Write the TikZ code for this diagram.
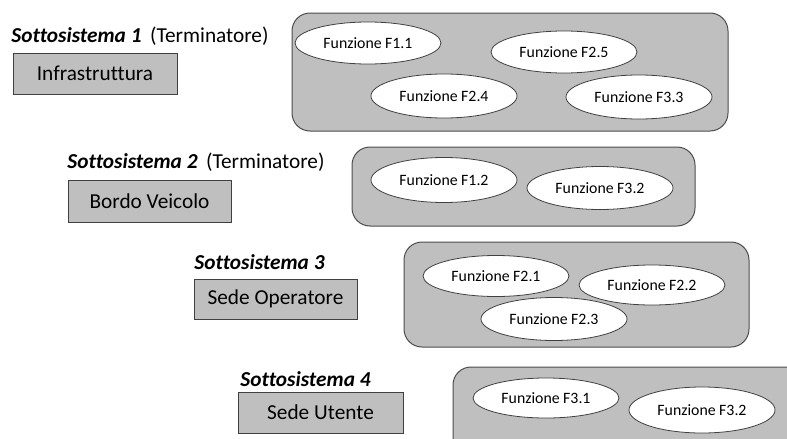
\documentclass[tikz,border=0pt]{standalone}
\usepackage{fontspec}
\setmainfont{Carlito}[Ligatures=NoCommon]
\usetikzlibrary{positioning,shapes}

\begin{document}
\begin{tikzpicture}[x=1pt,y=-1pt,line width=0.8pt,
		title/.style={anchor=base west,inner sep=0pt,font=\fontsize{21.3}{25}\selectfont},
		subbox/.style={draw=black!75,fill=black!25,inner sep=0pt,font=\fontsize{21.3}{25}\selectfont},
		cont/.style={draw=black!70,fill=black!25,rounded corners=18pt,inner sep=0pt,line width=1pt},
		funz/.style={shape=ellipse,draw=black!75,fill=white,inner sep=0pt,minimum width=146pt,minimum height=42pt,font=\fontsize{15.8}{18}\selectfont}]
		\useasboundingbox (0,0) rectangle (787,439);
		\clip (0,0) rectangle (787,439);
		
		\node[title] (t1) at (11,42) {\textbf{\textit{Sottosistema 1}}\hspace{0.4em}(Terminatore)};
		\node[subbox,minimum width=164pt,minimum height=41pt] (s1) at (95,73.5) {Infrastruttura};
		\node[cont,minimum width=436pt,minimum height=118pt] (c1) at (510,72) {};
		\node[funz] (f11) at (368,43) {Funzione F1.1};
		\node[funz] (f25) at (564,52) {Funzione F2.5};
		\node[funz,minimum height=44pt] (f24) at (444,96) {Funzione F2.4};
		\node[funz,minimum height=44pt] (f33) at (639,97) {Funzione F3.3};
		
		\node[title] (t2) at (67,168) {\textbf{\textit{Sottosistema 2}}\hspace{0.4em}(Terminatore)};
		\node[subbox,minimum width=163pt,minimum height=42pt] (s2) at (149.5,201) {Bordo Veicolo};
		\node[cont,minimum width=343pt,minimum height=79pt] (c2) at (523.5,186.5) {};
		\node[funz,minimum height=45pt] (f12) at (444,180) {Funzione F1.2};
		\node[funz,minimum height=43pt] (f32a) at (600,188) {Funzione F3.2};
		
		\node[title] (t3) at (194,269) {\textbf{\textit{Sottosistema 3}}};
		\node[subbox,minimum width=163pt,minimum height=40pt] (s3) at (275.5,299) {Sede Operatore};
		\node[cont,minimum width=345pt,minimum height=105pt] (c3) at (576.5,294.5) {};
		\node[funz,minimum height=41pt] (f21) at (496,276) {Funzione F2.1};
		\node[funz,minimum height=40pt] (f22) at (652,285) {Funzione F2.2};
		\node[funz,minimum height=43pt] (f23) at (554,319) {Funzione F2.3};
		
		\node[title] (t4) at (240,386) {\textbf{\textit{Sottosistema 4}}};
		\node[subbox,minimum width=165pt,minimum height=41pt] (s4) at (320.5,412.5) {Sede Utente};
		\node[cont,minimum width=360pt,minimum height=110pt] (c4) at (633,422) {};
		\node[funz,minimum height=40pt] (f31) at (546,398) {Funzione F3.1};
		\node[funz,minimum height=46pt] (f32b) at (702,410) {Funzione F3.2};
	\end{tikzpicture}
\end{document}
